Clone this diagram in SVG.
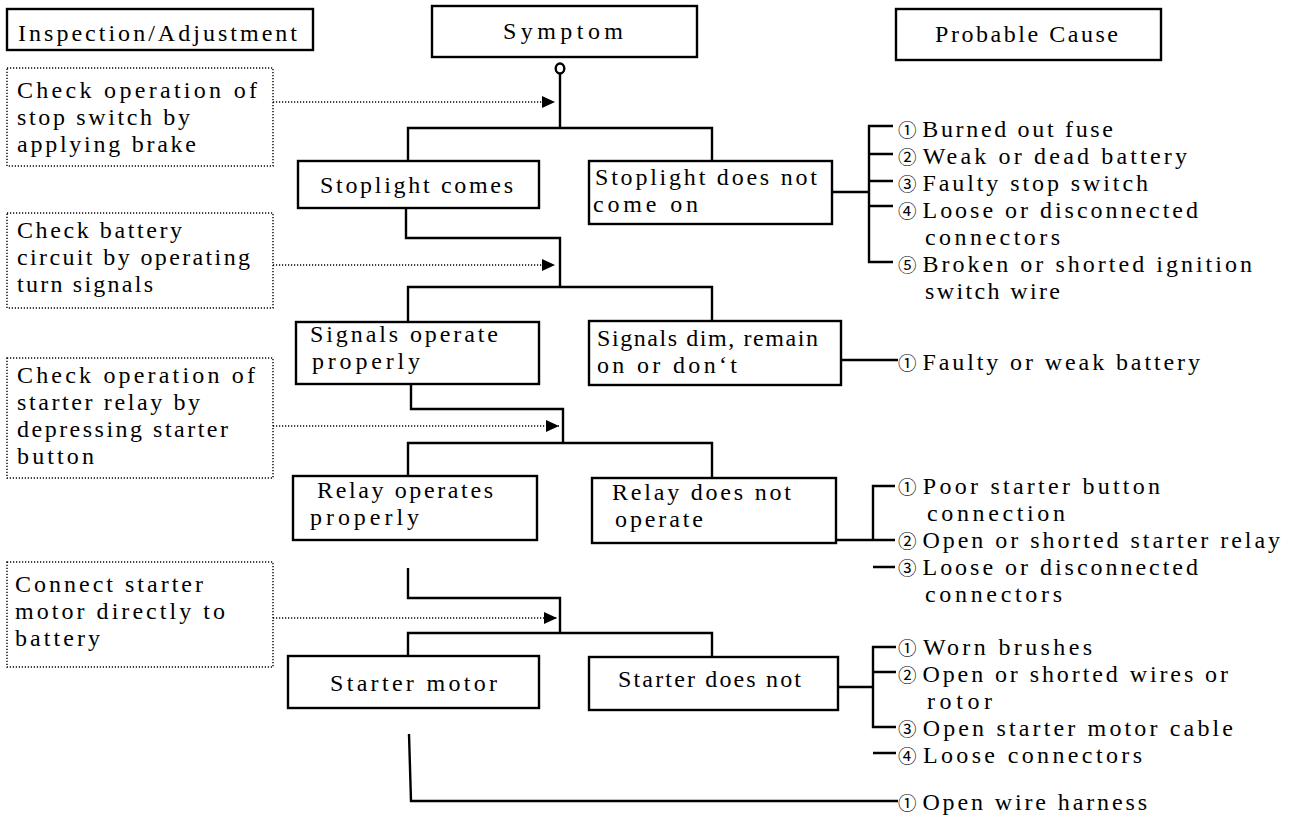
<svg xmlns="http://www.w3.org/2000/svg" width="1294" height="816" viewBox="0 0 1294 816">
<style>
.box{fill:#fff;stroke:#000;stroke-width:2.4}
.dbox{fill:none;stroke:#000;stroke-width:1.4;stroke-dasharray:1.2 1.8}
.ln{fill:none;stroke:#000;stroke-width:2.4}
.dl{fill:none;stroke:#000;stroke-width:1.4;stroke-dasharray:1.2 1.8}
.t{font-family:"Liberation Serif","Times New Roman","Noto Sans CJK JP",serif;font-size:24px;fill:#000}
.n{font-family:"Noto Sans CJK JP","DejaVu Sans",sans-serif;font-size:18.5px}
</style>
<defs>
<marker id="ah" markerUnits="userSpaceOnUse" markerWidth="13" markerHeight="12" refX="13" refY="6" orient="auto">
<path d="M0,0 L13,6 L0,12 Z" fill="#000"/>
</marker>
</defs>
<rect width="1294" height="816" fill="#fff"/>

<g id="connectors">
<ellipse cx="560" cy="68.5" rx="4.3" ry="5" class="ln"/>
<path class="ln" d="M560,73.5 V128 M408,161 V128 H712 V161"/>
<path class="ln" d="M406,208 V238 H560 V287 M408,322 V287 H712 V321"/>
<path class="ln" d="M411,384 V409 H563 V443 M408,476 V443 H712 V478"/>
<path class="ln" d="M408,568 V598 H560 V633 M408,656 V633 H712 V657"/>
<path class="ln" d="M409,734 L411,801 H898"/>
<path class="ln" d="M832,192 H869 M893,126 H869 V262 H893 M869,154 H893 M869,181 H893 M869,206 H893"/>
<path class="ln" d="M841,360 H898"/>
<path class="ln" d="M836,540 H873 M895,486 H873 V540 H895 M873,567 H895"/>
<path class="ln" d="M838,687 H873 M896,647 H873 V727 H896 M873,672 H896 M873,753 H896"/>
<line class="dl" x1="273" y1="102" x2="555" y2="102" marker-end="url(#ah)"/>
<line class="dl" x1="273" y1="265" x2="555" y2="265" marker-end="url(#ah)"/>
<line class="dl" x1="273" y1="426" x2="559" y2="426" marker-end="url(#ah)"/>
<line class="dl" x1="273" y1="618" x2="557" y2="618" marker-end="url(#ah)"/>
</g>

<g id="hdr-inspection"><rect class="box" x="7" y="9" width="306" height="41"/><text class="t" x="18" y="41" textLength="279" lengthAdjust="spacing">Inspection/Adjustment</text></g>
<g id="hdr-symptom"><rect class="box" x="432" y="6" width="265" height="51"/><text class="t" x="503" y="39" textLength="120" lengthAdjust="spacing">Symptom</text></g>
<g id="hdr-cause"><rect class="box" x="896" y="9" width="265" height="51"/><text class="t" x="935" y="42" textLength="183" lengthAdjust="spacing">Probable Cause</text></g>

<g id="check1"><rect class="dbox" x="7" y="68" width="266" height="98"/>
<text class="t" x="17" y="98" textLength="240" lengthAdjust="spacing">Check operation of</text>
<text class="t" x="17" y="125" textLength="173" lengthAdjust="spacing">stop switch by</text>
<text class="t" x="17" y="152" textLength="179" lengthAdjust="spacing">applying brake</text></g>
<g id="check2"><rect class="dbox" x="7" y="213" width="266" height="95"/>
<text class="t" x="17" y="238" textLength="165" lengthAdjust="spacing">Check battery</text>
<text class="t" x="17" y="265" textLength="233" lengthAdjust="spacing">circuit by operating</text>
<text class="t" x="17" y="292" textLength="136" lengthAdjust="spacing">turn signals</text></g>
<g id="check3"><rect class="dbox" x="7" y="358" width="266" height="120"/>
<text class="t" x="17" y="383" textLength="238" lengthAdjust="spacing">Check operation of</text>
<text class="t" x="17" y="410" textLength="183" lengthAdjust="spacing">starter relay by</text>
<text class="t" x="17" y="437" textLength="211" lengthAdjust="spacing">depressing starter</text>
<text class="t" x="17" y="464" textLength="77" lengthAdjust="spacing">button</text></g>
<g id="check4"><rect class="dbox" x="7" y="562" width="266" height="105"/>
<text class="t" x="15" y="592" textLength="188" lengthAdjust="spacing">Connect starter</text>
<text class="t" x="15" y="619" textLength="210" lengthAdjust="spacing">motor directly to</text>
<text class="t" x="15" y="646" textLength="85" lengthAdjust="spacing">battery</text></g>

<g id="s-stop-on"><rect class="box" x="298" y="161" width="241" height="47"/><text class="t" x="320" y="193" textLength="193" lengthAdjust="spacing">Stoplight comes</text></g>
<g id="s-stop-off"><rect class="box" x="589" y="161" width="243" height="63"/><text class="t" x="595" y="185" textLength="222" lengthAdjust="spacing">Stoplight does not</text><text class="t" x="593" y="212" textLength="105" lengthAdjust="spacing">come on</text></g>
<g id="s-sig-ok"><rect class="box" x="296" y="322" width="243" height="62"/><text class="t" x="310" y="342" textLength="188" lengthAdjust="spacing">Signals operate</text><text class="t" x="312" y="369" textLength="108" lengthAdjust="spacing">properly</text></g>
<g id="s-sig-dim"><rect class="box" x="589" y="321" width="252" height="64"/><text class="t" x="597" y="346" textLength="221" lengthAdjust="spacing">Signals dim, remain</text><text class="t" x="597" y="373" textLength="140" lengthAdjust="spacing">on or don‘t</text></g>
<g id="s-relay-ok"><rect class="box" x="293" y="476" width="244" height="64"/><text class="t" x="317" y="498" textLength="176" lengthAdjust="spacing">Relay operates</text><text class="t" x="310" y="525" textLength="109" lengthAdjust="spacing">properly</text></g>
<g id="s-relay-no"><rect class="box" x="592" y="478" width="244" height="65"/><text class="t" x="612" y="500" textLength="179" lengthAdjust="spacing">Relay does not</text><text class="t" x="615" y="527" textLength="88" lengthAdjust="spacing">operate</text></g>
<g id="s-starter"><rect class="box" x="288" y="656" width="251" height="52"/><text class="t" x="330" y="691" textLength="167" lengthAdjust="spacing">Starter motor</text></g>
<g id="s-starter-no"><rect class="box" x="589" y="657" width="249" height="53"/><text class="t" x="618" y="687" textLength="183" lengthAdjust="spacing">Starter does not</text></g>

<g id="c1">
<text class="t" x="898" y="137" textLength="215" lengthAdjust="spacing"><tspan class="n">①</tspan><tspan dx="3">Burned out fuse</tspan></text>
<text class="t" x="898" y="164" textLength="289" lengthAdjust="spacing"><tspan class="n">②</tspan><tspan dx="3">Weak or dead battery</tspan></text>
<text class="t" x="898" y="191" textLength="250" lengthAdjust="spacing"><tspan class="n">③</tspan><tspan dx="3">Faulty stop switch</tspan></text>
<text class="t" x="898" y="218" textLength="300" lengthAdjust="spacing"><tspan class="n">④</tspan><tspan dx="3">Loose or disconnected</tspan></text>
<text class="t" x="925" y="245" textLength="135" lengthAdjust="spacing">connectors</text>
<text class="t" x="898" y="272" textLength="354" lengthAdjust="spacing"><tspan class="n">⑤</tspan><tspan dx="3">Broken or shorted ignition</tspan></text>
<text class="t" x="925" y="299" textLength="135" lengthAdjust="spacing">switch wire</text>
</g>
<g id="c2">
<text class="t" x="898" y="370" textLength="302" lengthAdjust="spacing"><tspan class="n">①</tspan><tspan dx="3">Faulty or weak battery</tspan></text>
</g>
<g id="c3">
<text class="t" x="898" y="494" textLength="262" lengthAdjust="spacing"><tspan class="n">①</tspan><tspan dx="3">Poor starter button</tspan></text>
<text class="t" x="927" y="521" textLength="138" lengthAdjust="spacing">connection</text>
<text class="t" x="898" y="548" textLength="382" lengthAdjust="spacing"><tspan class="n">②</tspan><tspan dx="3">Open or shorted starter relay</tspan></text>
<text class="t" x="898" y="575" textLength="300" lengthAdjust="spacing"><tspan class="n">③</tspan><tspan dx="3">Loose or disconnected</tspan></text>
<text class="t" x="925" y="602" textLength="137" lengthAdjust="spacing">connectors</text>
</g>
<g id="c4">
<text class="t" x="898" y="655" textLength="194" lengthAdjust="spacing"><tspan class="n">①</tspan><tspan dx="3">Worn brushes</tspan></text>
<text class="t" x="898" y="682" textLength="330" lengthAdjust="spacing"><tspan class="n">②</tspan><tspan dx="3">Open or shorted wires or</tspan></text>
<text class="t" x="927" y="709" textLength="65" lengthAdjust="spacing">rotor</text>
<text class="t" x="898" y="736" textLength="335" lengthAdjust="spacing"><tspan class="n">③</tspan><tspan dx="3">Open starter motor cable</tspan></text>
<text class="t" x="898" y="763" textLength="244" lengthAdjust="spacing"><tspan class="n">④</tspan><tspan dx="3">Loose connectors</tspan></text>
</g>
<g id="c5">
<text class="t" x="898" y="810" textLength="249" lengthAdjust="spacing"><tspan class="n">①</tspan><tspan dx="3">Open wire harness</tspan></text>
</g>
</svg>
